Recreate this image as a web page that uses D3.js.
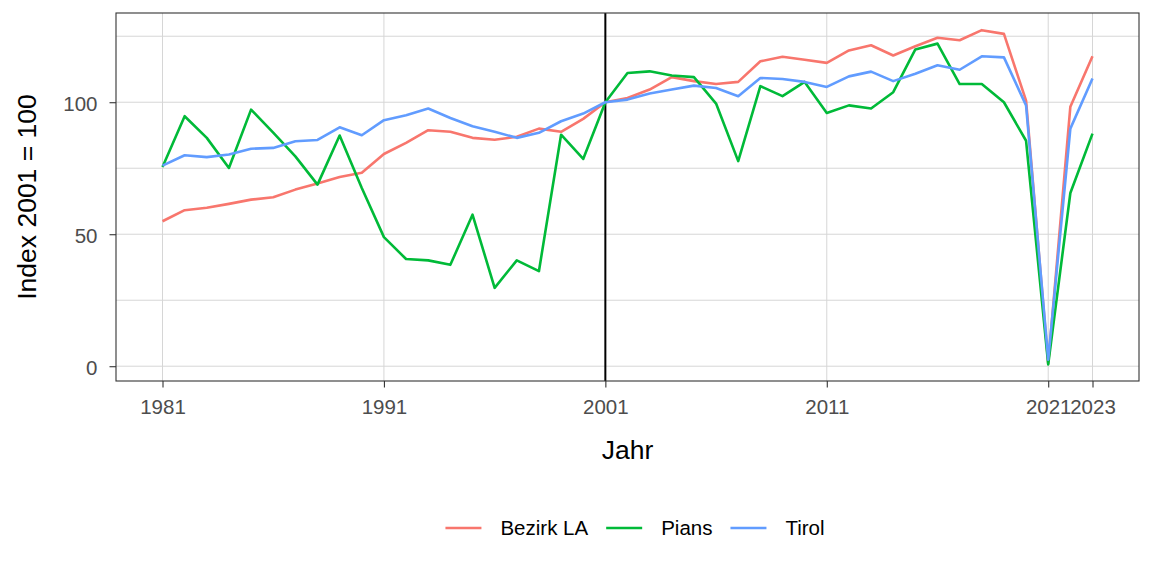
<!DOCTYPE html>
<html>
<head>
<meta charset="utf-8">
<script src="https://cdn.jsdelivr.net/npm/d3@7"></script>
<style>
  body { margin: 0; background: #fff; }
  text { font-family: "Liberation Sans", Arial, sans-serif; }
  .grid line { stroke: #d6d6d6; stroke-width: 1; }
</style>
</head>
<body>
<svg id="chart" width="1152" height="576"></svg>
<script>
// data
var years = [1981, 1982, 1983, 1984, 1985, 1986, 1987, 1988, 1989, 1990,
             1991, 1992, 1993, 1994, 1995, 1996, 1997, 1998, 1999, 2000,
             2001, 2002, 2003, 2004, 2005, 2006, 2007, 2008, 2009, 2010,
             2011, 2012, 2013, 2014, 2015, 2016, 2017, 2018, 2019, 2020,
             2021, 2022, 2023];

var bezirkLA = [54.9, 59.1, 60.0, 61.5, 63.1, 64.0, 66.9, 69.2, 71.7, 73.3,
                80.4, 84.6, 89.4, 88.8, 86.5, 85.8, 86.9, 90.0, 88.8, 93.7,
                100, 101.6, 104.8, 109.5, 108.0, 106.9, 107.7, 115.5, 117.2, 116.1,
                114.9, 119.6, 121.6, 117.7, 121.2, 124.4, 123.5, 127.3, 125.9, 100.6,
                1.0, 98.3, 117.4];

var pians = [75.5, 94.7, 86.5, 75.1, 97.2, 88.5, 79.5, 68.8, 87.4, 67.5,
             48.9, 40.6, 40.1, 38.4, 57.4, 29.7, 40.1, 36.0, 87.7, 78.5,
             100, 111.1, 111.7, 110.1, 109.5, 99.5, 77.7, 106.1, 102.3, 107.7,
             95.9, 98.8, 97.6, 103.8, 120.0, 122.2, 106.9, 106.9, 100.0, 85.4,
             0.7, 65.6, 88.1];

var tirol = [76.0, 79.9, 79.2, 80.2, 82.4, 82.7, 85.2, 85.7, 90.5, 87.5,
             93.2, 95.1, 97.6, 94.0, 90.9, 88.8, 86.5, 88.4, 92.8, 95.7,
             100, 101.0, 103.3, 104.8, 106.3, 105.4, 102.3, 109.2, 108.8, 107.7,
             105.8, 109.8, 111.6, 108.0, 110.8, 114.0, 112.3, 117.4, 117.0, 98.8,
             2.5, 90.0, 109.0];

var seriesNames = ["Bezirk LA", "Pians", "Tirol"];
var seriesColors = ["#F8766D", "#00BA38", "#619CFF"];
var xBreaks = [1981, 1991, 2001, 2011, 2021, 2023];
var yBreaks = [0, 50, 100];
var yGrid = [0, 25, 50, 75, 100, 125];
var refYear = 2001;

var svg = d3.select("#chart");
var panel = { left: 116, right: 1139, top: 13, bottom: 381 };

svg.append("rect").attr("width", 1152).attr("height", 576).attr("fill", "#fff");

var x = d3.scaleLinear().domain([1978.9, 2025.1]).range([panel.left, panel.right]);
var y = d3.scaleLinear().domain([-5.6, 133.8]).range([panel.bottom, panel.top]);

// grid
var grid = svg.append("g").attr("class", "grid");
grid.selectAll(".gy").data(yGrid).enter().append("line")
    .attr("x1", panel.left).attr("x2", panel.right)
    .attr("y1", function(d) { return y(d); }).attr("y2", function(d) { return y(d); });
grid.selectAll(".gx").data(xBreaks).enter().append("line")
    .attr("y1", panel.top).attr("y2", panel.bottom)
    .attr("x1", function(d) { return x(d); }).attr("x2", function(d) { return x(d); });

// vertical reference line at 2001
svg.append("line")
    .attr("x1", x(refYear)).attr("x2", x(refYear))
    .attr("y1", panel.top).attr("y2", panel.bottom)
    .attr("stroke", "#000").attr("stroke-width", 2);

// lines
var series = [bezirkLA, pians, tirol];
var lineGen = d3.line()
    .x(function(d, i) { return x(years[i]); })
    .y(function(d) { return y(d); });

series.forEach(function(vals, k) {
    svg.append("path")
        .attr("d", lineGen(vals))
        .attr("fill", "none")
        .attr("stroke", seriesColors[k])
        .attr("stroke-width", 2.6)
        .attr("stroke-linejoin", "round");
});

// panel border
svg.append("rect")
    .attr("x", panel.left).attr("y", panel.top)
    .attr("width", panel.right - panel.left).attr("height", panel.bottom - panel.top)
    .attr("fill", "none").attr("stroke", "#333").attr("stroke-width", 1.1);

// axes
var xAxis = d3.axisBottom(x).tickValues(xBreaks).tickFormat(d3.format("d"))
    .tickSize(6.5).tickPadding(12);
var yAxis = d3.axisLeft(y).tickValues(yBreaks).tickFormat(d3.format("d"))
    .tickSize(6.5).tickPadding(12);

var gx = svg.append("g").attr("transform", "translate(0," + panel.bottom + ")").call(xAxis);
var gy = svg.append("g").attr("transform", "translate(" + panel.left + ",0)").call(yAxis);

[gx, gy].forEach(function(g) {
    g.select(".domain").remove();
    g.selectAll(".tick line").attr("stroke", "#333").attr("stroke-width", 1.1);
    g.selectAll(".tick text").attr("fill", "#4d4d4d").style("font-size", "20.5px")
        .style("font-family", "'Liberation Sans', Arial, sans-serif");
});
gx.selectAll(".tick text").attr("dy", "0.71em");
gy.selectAll(".tick text").attr("dy", "0.4em");

// axis titles
svg.append("text")
    .attr("x", (panel.left + panel.right) / 2).attr("y", 459)
    .attr("text-anchor", "middle").style("font-size", "26.5px").attr("fill", "#000")
    .text("Jahr");

svg.append("text")
    .attr("transform", "translate(36," + ((panel.top + panel.bottom) / 2) + ") rotate(-90)")
    .attr("text-anchor", "middle").style("font-size", "26.5px").attr("fill", "#000")
    .text("Index 2001 = 100");

// legend
var legend = svg.append("g");
var lx = 0;
seriesNames.forEach(function(name, k) {
    var item = legend.append("g").attr("transform", "translate(" + lx + ",0)");
    item.append("line").attr("x1", 0).attr("x2", 36).attr("y1", 0).attr("y2", 0)
        .attr("stroke", seriesColors[k]).attr("stroke-width", 2.6);
    var t = item.append("text").attr("x", 55).attr("y", 0).attr("dy", "0.36em")
        .style("font-size", "20.5px").attr("fill", "#000").text(name);
    lx += 55 + t.node().getComputedTextLength() + 18;
});
var legendWidth = lx - 18;
legend.attr("transform", "translate(" + (635 - legendWidth / 2) + ",528)");
</script>
</body>
</html>
